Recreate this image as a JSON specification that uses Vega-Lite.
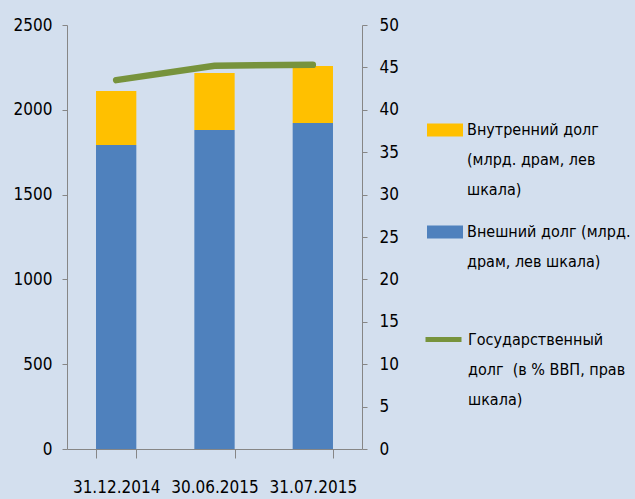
{
  "$schema": "https://vega.github.io/schema/vega-lite/v6.json",
  "width": 295,
  "height": 424,
  "autosize": {"type": "none"},
  "padding": {"left": 67, "top": 25, "right": 273, "bottom": 50},
  "background": "#d3dfee",
  "config": {
    "view": {"stroke": null},
    "font": "DejaVu Sans Condensed",
    "axis": {
      "grid": false,
      "domainColor": "#868686",
      "tickColor": "#868686",
      "labelColor": "#000000",
      "labelFont": "DejaVu Sans Condensed",
      "labelFontSize": 17,
      "title": null
    },
    "legend": {
      "labelFont": "DejaVu Sans Condensed",
      "labelFontSize": 16,
      "labelColor": "#000000",
      "labelLimit": 300
    }
  },
  "layer": [
    {
      "data": {
        "values": [
          {"date": "31.12.2014", "series": "Внешний долг (млрд.|драм, лев шкала)", "value": 1792},
          {"date": "31.12.2014", "series": "Внутренний долг|(млрд. драм, лев|шкала)", "value": 319},
          {"date": "30.06.2015", "series": "Внешний долг (млрд.|драм, лев шкала)", "value": 1881},
          {"date": "30.06.2015", "series": "Внутренний долг|(млрд. драм, лев|шкала)", "value": 336},
          {"date": "31.07.2015", "series": "Внешний долг (млрд.|драм, лев шкала)", "value": 1922},
          {"date": "31.07.2015", "series": "Внутренний долг|(млрд. драм, лев|шкала)", "value": 336}
        ]
      },
      "mark": {"type": "bar"},
      "encoding": {
        "x": {
          "field": "date",
          "type": "nominal",
          "sort": null,
          "scale": {"paddingInner": 0.59, "paddingOuter": 0.295},
          "axis": {
            "labelAngle": 0,
            "tickBand": "extent",
            "tickSize": 9,
            "labelPadding": 21,
            "labelBaseline": "top"
          }
        },
        "y": {
          "field": "value",
          "type": "quantitative",
          "stack": "zero",
          "scale": {"domain": [0, 2500], "nice": false},
          "axis": {
            "orient": "left",
            "values": [0, 500, 1000, 1500, 2000, 2500],
            "format": "d",
            "tickSize": 5,
            "labelPadding": 10
          }
        },
        "color": {
          "field": "series",
          "type": "nominal",
          "scale": {
            "domain": ["Внутренний долг|(млрд. драм, лев|шкала)", "Внешний долг (млрд.|драм, лев шкала)"],
            "range": ["#ffc000", "#4f81bd"]
          },
          "legend": {
            "orient": "none",
            "legendX": 360,
            "legendY": 87,
            "title": null,
            "symbolType": "M-1,-0.36L1,-0.36L1,0.36L-1,0.36Z",
            "symbolSize": 1296,
            "symbolStrokeWidth": 0,
            "labelOffset": 4,
            "labelBaseline": "middle",
            "rowPadding": 16,
            "labelExpr": "split(datum.label, '|')",
            "encode": {"labels": {"update": {"lineHeight": {"value": 30}}}}
          }
        },
        "order": {"field": "series", "sort": "ascending"}
      }
    },
    {
      "data": {
        "values": [
          {"date": "31.12.2014", "pct": 43.5},
          {"date": "30.06.2015", "pct": 45.2},
          {"date": "31.07.2015", "pct": 45.3}
        ]
      },
      "mark": {"type": "line", "strokeWidth": 6.5, "strokeCap": "round"},
      "encoding": {
        "x": {"field": "date", "type": "nominal", "sort": null},
        "y": {
          "field": "pct",
          "type": "quantitative",
          "scale": {"domain": [0, 50], "nice": false},
          "axis": {
            "orient": "right",
            "values": [0, 5, 10, 15, 20, 25, 30, 35, 40, 45, 50],
            "tickSize": 5,
            "labelPadding": 12
          }
        },
        "stroke": {
          "datum": "Государственный|долг \u00a0(в % ВВП, прав|шкала)",
          "type": "nominal",
          "scale": {"range": ["#77933c"]},
          "legend": {
            "orient": "none",
            "legendX": 356,
            "legendY": 294,
            "title": null,
            "symbolType": "stroke",
            "symbolSize": 1296,
            "symbolStrokeWidth": 5,
            "labelOffset": 4,
            "labelBaseline": "middle",
            "labelExpr": "split(datum.label, '|')",
            "encode": {"labels": {"update": {"lineHeight": {"value": 30}}}}
          }
        }
      }
    }
  ],
  "resolve": {"scale": {"y": "independent", "color": "independent", "stroke": "independent"}}
}
